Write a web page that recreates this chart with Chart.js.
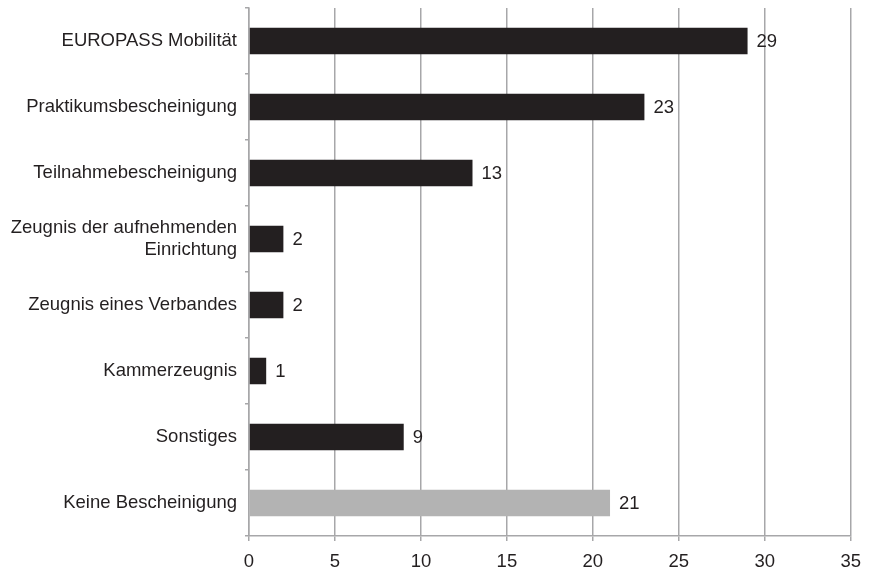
<!DOCTYPE html>
<html>
<head>
<meta charset="utf-8">
<script src="https://cdn.jsdelivr.net/npm/chart.js@4"></script>
<style>
  html, body { margin: 0; padding: 0; background: #fff; }
  canvas { display: block; }
</style>
</head>
<body>
<canvas id="grafica" width="871" height="571"></canvas>
<script>
// Kategorien und Anzahl der Nennungen
const kategorien = [
  'EUROPASS Mobilität',
  'Praktikumsbescheinigung',
  'Teilnahmebescheinigung',
  ['Zeugnis der aufnehmenden', 'Einrichtung'],
  'Zeugnis eines Verbandes',
  'Kammerzeugnis',
  'Sonstiges',
  'Keine Bescheinigung'
];
const anzahl = [29, 23, 13, 2, 2, 1, 9, 21];
const farben = ['#231f20', '#231f20', '#231f20', '#231f20', '#231f20', '#231f20', '#231f20', '#b3b3b3'];
const xMax = 35;
const xSchritt = 5;

const schrift = { family: "'Liberation Sans', Arial, Helvetica, sans-serif", size: 18.5, lineHeight: 1.2 };
const textFarbe = '#231f20';
const gitterFarbe = '#a7a7a9';

// Werte rechts neben die Balken schreiben
const wertePlugin = {
  id: 'werte',
  afterDatasetsDraw(chart) {
    const ctx = chart.ctx;
    const meta = chart.getDatasetMeta(0);
    ctx.save();
    ctx.font = schrift.size + 'px ' + schrift.family;
    ctx.fillStyle = textFarbe;
    ctx.textAlign = 'left';
    ctx.textBaseline = 'middle';
    meta.data.forEach((bar, i) => {
      ctx.fillText(String(anzahl[i]), bar.x + 9, bar.y + 1);
    });
    ctx.restore();
  }
};

new Chart(document.getElementById('grafica'), {
  type: 'bar',
  data: {
    labels: kategorien,
    datasets: [{
      data: anzahl,
      backgroundColor: farben,
      borderWidth: 0,
      barPercentage: 0.4,
      categoryPercentage: 1
    }]
  },
  options: {
    indexAxis: 'y',
    responsive: false,
    animation: false,
    layout: { padding: { left: 0, right: 20, top: 8, bottom: 0 } },
    plugins: {
      legend: { display: false },
      tooltip: { enabled: false }
    },
    scales: {
      x: {
        min: 0,
        max: xMax,
        ticks: { stepSize: xSchritt, color: textFarbe, font: schrift, padding: 10 },
        grid: { color: gitterFarbe, lineWidth: 1.5, tickLength: 5 },
        border: { color: gitterFarbe, width: 1.5 },
        afterFit(scale) { scale.height = 35; }
      },
      y: {
        ticks: { color: textFarbe, font: schrift, padding: 8 },
        grid: { drawOnChartArea: false, color: gitterFarbe, lineWidth: 1.5, tickLength: 4 },
        border: { color: gitterFarbe, width: 1.5 },
        afterFit(scale) {
          scale.width = 249;
          scale.paddingTop = 0;
          scale.paddingBottom = 0;
        }
      }
    }
  },
  plugins: [wertePlugin]
});
</script>
</body>
</html>
